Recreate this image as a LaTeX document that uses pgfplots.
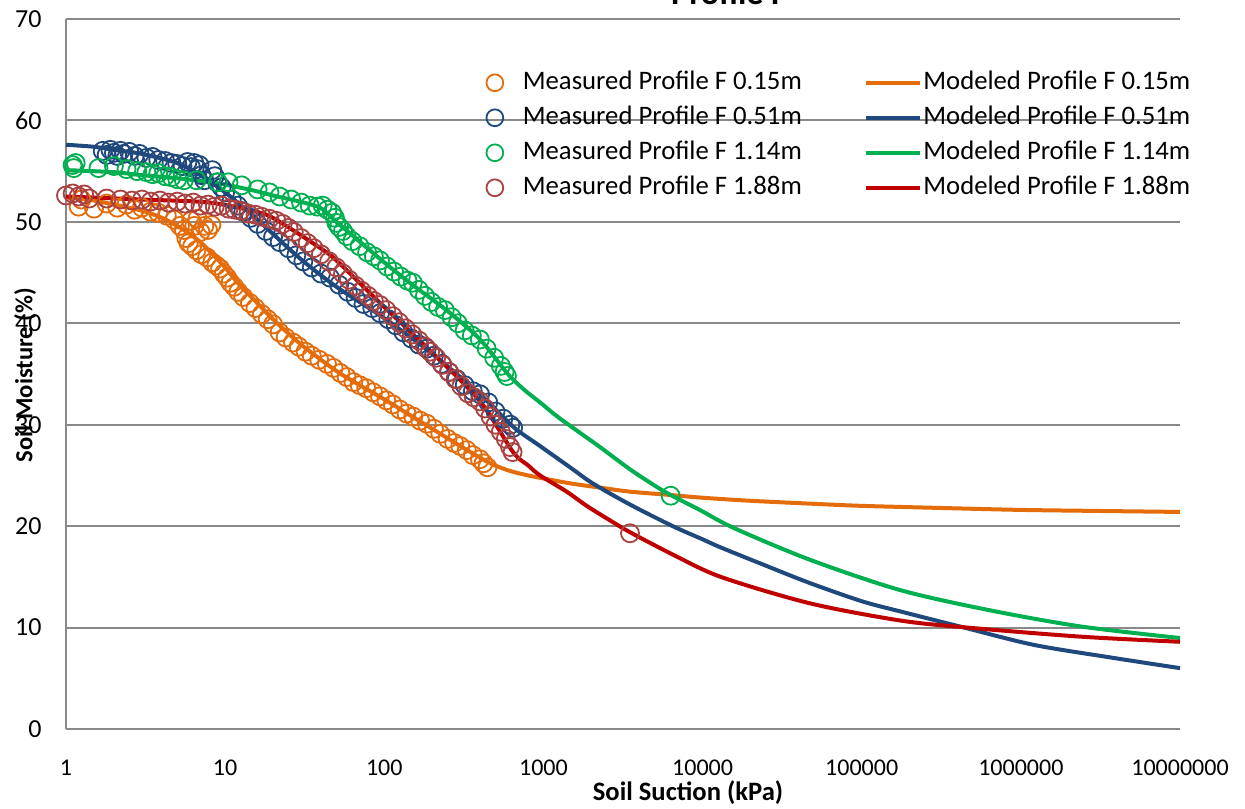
\documentclass[border=0pt]{standalone}
\usepackage{pgfplots}
\pgfplotsset{compat=1.18}
\usepackage{fontspec}
\setmainfont{Carlito}
\definecolor{corange}{RGB}{228,108,10}
\definecolor{cblue}{RGB}{31,73,125}
\definecolor{cgreen}{RGB}{0,176,80}
\definecolor{cred}{RGB}{192,0,0}
\definecolor{cbrown}{RGB}{169,66,64}
\definecolor{gridgray}{RGB}{137,137,137}
\begin{document}
\begin{tikzpicture}
\path[use as bounding box] (0pt,0pt) rectangle (622.5pt,404pt);
\begin{axis}[
  at={(33pt,39.5pt)}, anchor=south west,
  scale only axis, width=557pt, height=355pt,
  xmode=log, xmin=1, xmax=1e7, ymin=0, ymax=70,
  axis lines*=left,
  axis line style={draw=gridgray, line width=1pt},
  ymajorgrids, grid style={draw=gridgray, line width=1pt},
  xminorticks=false, yminorticks=false,
  major tick length=0pt,
  ytick={0,10,20,30,40,50,60,70},
  xtick={1,10,100,1000,10000,100000,1000000,10000000},
  xticklabels={1,10,100,1000,10000,100000,1000000,10000000},
  /pgf/number format/assume math mode=true,
  yticklabel style={font=\fontsize{13}{15}\selectfont, inner xsep=0pt, anchor=east, xshift=-12pt},
  xticklabel style={font=\fontsize{12}{14}\selectfont, anchor=base, yshift=-23pt},
  clip=false,
  legend columns=2,
  legend cell align=left,
  legend style={draw=none, fill=none, at={(0.355,0.941)}, anchor=north west,
    font=\fontsize{13.35}{16}\selectfont,
    nodes={text height=10pt, text depth=3pt, inner xsep=0.5pt, inner ysep=2.25pt},
    /tikz/every even column/.append style={column sep=30.75pt}},
  legend image code/.code={\draw[mark repeat=2,mark phase=2,#1] plot coordinates {(0pt,0pt) (13.5pt,0pt) (27pt,0pt)}; \path[draw=none,fill=none] (0pt,0pt) (27pt,0pt);},
]
\addlegendimage{only marks, mark=o, color=corange, mark size=4.2pt, mark options={line width=0.9pt}}
\addlegendentry{Measured Profile F 0.15m}
\addlegendimage{color=corange, line width=2pt}
\addlegendentry{Modeled Profile F 0.15m}
\addlegendimage{only marks, mark=o, color=cblue, mark size=4.2pt, mark options={line width=0.9pt}}
\addlegendentry{Measured Profile F 0.51m}
\addlegendimage{color=cblue, line width=2pt}
\addlegendentry{Modeled Profile F 0.51m}
\addlegendimage{only marks, mark=o, color=cgreen, mark size=4.2pt, mark options={line width=0.9pt}}
\addlegendentry{Measured Profile F 1.14m}
\addlegendimage{color=cgreen, line width=2pt}
\addlegendentry{Modeled Profile F 1.14m}
\addlegendimage{only marks, mark=o, color=cbrown, mark size=4.2pt, mark options={line width=0.9pt}}
\addlegendentry{Measured Profile F 1.88m}
\addlegendimage{color=cred, line width=2pt}
\addlegendentry{Modeled Profile F 1.88m}

% Modeled curves
\addplot[forget plot, color=corange, line width=2pt, smooth] coordinates {
(1,52.4)(1.5,52.1)(2,51.7)(3,51.1)(4,50.4)(5,49.6)(6,48.8)(7,48.0)(8,47.1)(10,45.5)(12,44.0)(15,42.4)(20,40.4)(30,37.9)(50,35.3)(70,33.9)(100,32.5)(150,30.8)(200,29.6)(300,27.9)(450,26.3)(600,25.5)(800,25.0)(1000,24.7)(1500,24.2)(2265,23.8)(3500,23.4)(6300,23.07)(10000,22.8)(20000,22.5)(50000,22.2)(100000,22.0)(300000,21.8)(1000000,21.6)(3000000,21.5)(10000000,21.4)};
\addplot[forget plot, color=cblue, line width=2pt, smooth] coordinates {
(1,57.6)(1.5,57.4)(2,57.1)(3,56.7)(5,55.8)(7,54.6)(10,52.9)(15,50.6)(20,48.8)(30,46.3)(50,43.6)(100,40.5)(200,37.0)(400,33.0)(645,29.8)(952,27.9)(1500,25.7)(2000,24.3)(3000,22.7)(4300,21.4)(6700,19.9)(10000,18.7)(13000,17.9)(25000,16.1)(47000,14.4)(100000,12.6)(174000,11.6)(440000,10.0)(1200000,8.3)(3500000,7.1)(10000000,6.0)};
\addplot[forget plot, color=cgreen, line width=2pt, smooth] coordinates {
(1,55.1)(2,54.9)(3,54.6)(5,54.3)(9,53.8)(15,53.1)(20,52.6)(38,51.5)(50,50.0)(100,46.0)(150,43.8)(250,41.2)(400,38.4)(590,35.1)(750,33.5)(952,32.2)(1200,30.9)(1500,29.8)(2265,27.8)(3500,25.6)(5000,24.0)(6300,23.07)(9600,21.6)(15800,19.8)(47000,16.7)(174000,13.7)(640000,11.7)(2400000,10.1)(10000000,8.97)};
\addplot[forget plot, color=cred, line width=2pt, smooth] coordinates {
(1,52.5)(3,52.2)(8,51.9)(16.6,50.9)(22,50.0)(38,47.6)(50,46.2)(100,41.6)(200,37.1)(400,32.3)(645,27.3)(800,26.0)(952,25.0)(1400,23.4)(1870,22.0)(2600,20.6)(3500,19.4)(6500,17.2)(13000,15.0)(47000,12.4)(174000,10.7)(460000,10.0)(2400000,9.1)(10000000,8.6)};

% Measured
\addplot[forget plot, only marks, mark=o, color=corange, mark size=4.5pt, mark options={line width=0.9pt}] coordinates {
(1.2,51.5)(1.25,52.2)(1.5,51.3)(1.8,51.8)(2.1,51.4)(2.4,51.7)(2.7,51.2)(3.0,51.4)(3.4,51.0)(3.8,50.9)(4.3,50.6)(4.8,50.2)(5.2,49.6)(5.5,49.2)(5.7,48.4)(5.9,47.9)(6.1,50.1)(6.4,49.6)(6.7,50.3)(7.0,49.0)(7.4,49.6)(7.8,49.2)(8.2,49.7)(6.2,47.6)(6.6,47.2)(7.1,46.8)(7.7,46.5)(8.3,46.0)(8.8,45.7)(9.3,45.4)(9.8,44.9)(10.3,44.5)(10.8,44.0)(11.4,43.6)(12.1,43.1)(13,42.6)(14.3,42.0)(15.5,41.5)(17,40.9)(18.5,40.4)(20,39.9)(22,39.1)(24,38.6)(26.7,38.1)(29,37.7)(32,37.2)(35,36.8)(39,36.4)(43.6,36.0)(48,35.6)(53,35.1)(58,34.7)(64,34.2)(70,33.9)(77,33.6)(85,33.2)(94,32.8)(103,32.4)(113,32.0)(125,31.5)(138,31.1)(152,30.8)(168,30.4)(185,30.1)(205,29.6)(225,29.1)(250,28.6)(275,28.2)(300,27.9)(330,27.5)(360,27.0)(399,26.6)(420,26.2)(445,25.8)};
\addplot[forget plot, only marks, mark=o, color=cblue, mark size=4.5pt, mark options={line width=0.9pt}] coordinates {
(1.7,57.0)(1.8,56.6)(1.9,57.1)(2.0,56.8)(2.1,56.5)(2.2,57.0)(2.3,56.7)(2.5,56.9)(2.7,56.5)(2.9,56.7)(3.2,56.3)(3.5,56.4)(3.8,56.1)(4.2,56.0)(4.6,55.8)(5.0,55.7)(5.4,55.5)(5.8,55.9)(6.1,55.4)(6.4,55.8)(6.7,55.2)(6.9,55.6)(7.1,54.6)(7.4,54.1)(8.3,55.1)(8.6,54.5)(8.9,53.9)(9.5,53.4)(10,52.9)(11,52.2)(12,51.6)(13,51.0)(14.5,50.4)(16,49.8)(18,49.1)(20,48.5)(22,48.0)(25,47.4)(28,46.7)(31,46.1)(35,45.5)(40,44.9)(45.6,44.5)(52,43.8)(59,43.1)(66,42.5)(74,41.9)(84,41.5)(94,41.0)(106,40.4)(118,39.8)(132,39.1)(148,38.5)(165,37.9)(185,37.5)(205,36.8)(230,36.0)(255,35.2)(285,34.5)(320,33.9)(360,33.3)(400,33.0)(450,32.2)(500,31.3)(560,30.6)(620,30.0)(645,29.7)};
\addplot[forget plot, only marks, mark=o, color=cgreen, mark size=4.5pt, mark options={line width=0.9pt}] coordinates {
(1.1,55.6)(1.12,55.3)(1.15,55.8)(1.6,55.3)(2.0,55.5)(2.4,55.2)(2.8,55.0)(3.2,54.9)(3.5,54.7)(3.8,54.8)(4.2,54.5)(4.6,54.4)(5.0,54.2)(5.5,54.1)(6.6,54.1)(9,53.9)(10.5,53.9)(12.7,53.6)(16,53.2)(19,52.9)(22,52.5)(26,52.2)(30,51.9)(34,51.6)(38,51.5)(41,51.6)(44,51.2)(47,50.9)(49,50.4)(50,49.9)(52,49.5)(55,49.1)(58,48.6)(63,48.1)(70,47.6)(78,47.0)(86,46.6)(94,46.2)(104,45.6)(115,45.1)(127,44.6)(140,44.2)(151,44.0)(165,43.3)(180,42.7)(198,42.1)(218,41.6)(240,41.3)(265,40.6)(290,40.0)(320,39.3)(355,38.8)(399,38.4)(440,37.5)(490,36.6)(540,35.8)(570,35.2)(590,34.8)(6300,23.0)};
\addplot[forget plot, only marks, mark=o, color=cbrown, mark size=4.5pt, mark options={line width=0.9pt}] coordinates {
(1.0,52.6)(1.1,52.8)(1.2,52.5)(1.3,52.7)(1.4,52.3)(1.8,52.3)(2.2,52.2)(2.6,52.1)(3.0,52.2)(3.4,52.0)(3.9,52.1)(4.4,51.9)(5.0,52.0)(5.6,51.8)(6.3,51.9)(7.0,51.6)(7.8,51.7)(8.6,51.5)(9.5,51.6)(10.5,51.3)(11.5,51.2)(12.5,51.1)(14,50.8)(15.5,50.7)(17,50.5)(19,50.3)(21,50.1)(23,49.8)(25,49.4)(27,49.0)(30,48.4)(33,47.9)(36,47.4)(40,46.8)(45,46.1)(50,45.5)(55,44.9)(60,44.3)(66,43.7)(72,43.2)(79,42.7)(86,42.2)(94,41.8)(103,41.3)(113,40.7)(124,40.1)(136,39.5)(150,38.9)(165,38.3)(180,37.7)(194,37.2)(212,36.6)(232,35.9)(255,35.2)(280,34.5)(305,33.8)(335,33.1)(365,32.7)(399,32.3)(430,31.6)(465,30.8)(500,30.0)(540,29.3)(580,28.6)(617,27.8)(640,27.3)(3500,19.3)};
\end{axis}
\node[font=\bfseries\fontsize{17}{20}\selectfont, anchor=base] at (364.5pt,401.5pt) {Profile F};
\node[rotate=90, font=\bfseries\fontsize{12.3}{14}\selectfont] at (12.5pt,216.5pt) {Soil Moisture (\%)};
\node[font=\bfseries\fontsize{13.3}{16}\selectfont, anchor=base] at (344pt,4pt) {Soil Suction (kPa)};
\end{tikzpicture}
\end{document}
